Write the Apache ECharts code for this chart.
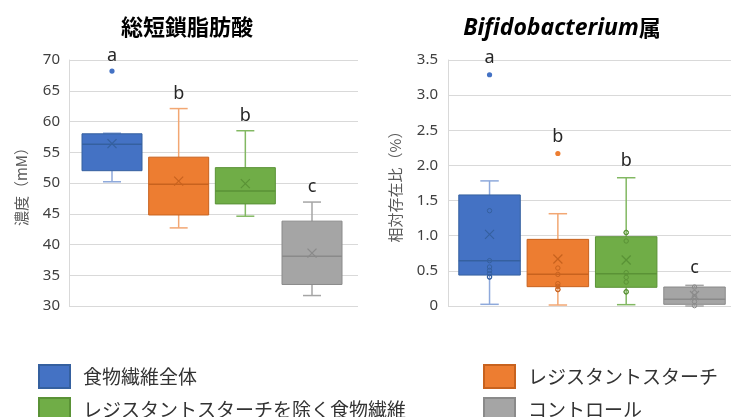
<!DOCTYPE html>
<html><head><meta charset="utf-8">
<script src="https://cdn.jsdelivr.net/npm/echarts@6/dist/echarts.min.js"></script>
<style>html,body{margin:0;padding:0;background:#fff}#c{width:731px;height:417px}</style>
</head><body><div id="c"></div>
<script>
// ---------- data ----------
const groups = ['食物繊維全体', 'レジスタントスターチ', 'レジスタントスターチを除く食物繊維', 'コントロール'];
const letters = ['a', 'b', 'b', 'c'];

// 総短鎖脂肪酸 (mM)
const scfaMin    = [50.2, 42.7, 44.6, 31.7];
const scfaQ1     = [52.0, 44.8, 46.6, 33.5];
const scfaMedian = [56.3, 49.8, 48.7, 38.1];
const scfaQ3     = [58.0, 54.2, 52.5, 43.8];
const scfaMax    = [58.1, 62.1, 58.5, 46.9];
const scfaMean   = [56.4, 50.3, 49.9, 38.6];
const scfaOutliers = [[68.2], [], [], []];
const scfaInner    = [[], [], [], []];
const scfaTicks = { min: 30, max: 70, interval: 5 };

// Bifidobacterium属 (%)
const bifMin    = [0.024, 0.014, 0.019, 0.0];
const bifQ1     = [0.44, 0.275, 0.266, 0.024];
const bifMedian = [0.645, 0.45, 0.46, 0.095];
const bifQ3     = [1.58, 0.948, 0.986, 0.27];
const bifMax    = [1.78, 1.313, 1.825, 0.294];
const bifMean   = [1.02, 0.668, 0.654, 0.15];
const bifOutliers = [[3.29], [2.17], [], []];
const bifInner = [
  [1.356, 0.645, 0.555, 0.507, 0.46, 0.417, 0.41],
  [0.54, 0.45, 0.318, 0.28, 0.237, 0.232],
  [1.048, 1.043, 0.925, 0.474, 0.408, 0.341, 0.199, 0.204],
  [0.27, 0.19, 0.133, 0.062, 0.005]
];
const bifTicks = { min: 0, max: 3.5, interval: 0.5 };

// ---------- styles ----------
const fills  = ['#4472C4', '#ED7D31', '#70AD47', '#A5A5A5'];
const darks  = ['#35609F', '#C8621E', '#5A9236', '#8A8A8A'];
const lights = ['#8EA9DB', '#F2A773', '#82B862', '#A5A5A5'];
const FONT = '"Noto Sans", "Noto Sans CJK JP", sans-serif';
const CJK = '"Noto Sans CJK JP", "Noto Sans", sans-serif';
const letterOffset = [15, 17];

const charts = [
  { min: scfaMin, q1: scfaQ1, med: scfaMedian, q3: scfaQ3, max: scfaMax, mean: scfaMean, out: scfaOutliers, inner: scfaInner },
  { min: bifMin, q1: bifQ1, med: bifMedian, q3: bifQ3, max: bifMax, mean: bifMean, out: bifOutliers, inner: bifInner }
];

function makeRender(c, g) {
  return function (params, api) {
    const x = api.value(0);
    const mn = api.value(1), q1 = api.value(2), md = api.value(3), q3 = api.value(4), mx = api.value(5), mean = api.value(6);
    const P = v => api.coord([x, v]);
    const unit = api.size([1, 0])[0];
    const bw = unit * 0.9;
    const capW = unit * 0.27;
    const cx = P(md)[0];
    const yMin = P(mn)[1], yQ1 = P(q1)[1], yMd = P(md)[1], yQ3 = P(q3)[1], yMax = P(mx)[1], yMean = P(mean)[1];
    const light = lights[g], dark = darks[g], fill = fills[g];
    const ch = [];
    ch.push({ type: 'line', shape: { x1: cx, y1: yMax, x2: cx, y2: yQ3 }, style: { stroke: light, lineWidth: 1.5 } });
    ch.push({ type: 'line', shape: { x1: cx, y1: yQ1, x2: cx, y2: yMin }, style: { stroke: light, lineWidth: 1.5 } });
    ch.push({ type: 'line', shape: { x1: cx - capW / 2, y1: yMax, x2: cx + capW / 2, y2: yMax }, style: { stroke: light, lineWidth: 1.5 } });
    ch.push({ type: 'line', shape: { x1: cx - capW / 2, y1: yMin, x2: cx + capW / 2, y2: yMin }, style: { stroke: light, lineWidth: 1.5 } });
    ch.push({ type: 'rect', shape: { x: cx - bw / 2, y: yQ3, width: bw, height: yQ1 - yQ3 }, style: { fill: fill, stroke: dark, lineWidth: 1 } });
    ch.push({ type: 'line', shape: { x1: cx - bw / 2, y1: yMd, x2: cx + bw / 2, y2: yMd }, style: { stroke: dark, lineWidth: 1.5 } });
    const h = 4.5;
    ch.push({ type: 'line', shape: { x1: cx - h, y1: yMean - h, x2: cx + h, y2: yMean + h }, style: { stroke: dark, lineWidth: 1.2 } });
    ch.push({ type: 'line', shape: { x1: cx - h, y1: yMean + h, x2: cx + h, y2: yMean - h }, style: { stroke: dark, lineWidth: 1.2 } });
    const d = charts[c];
    d.inner[g].forEach(v => {
      ch.push({ type: 'circle', shape: { cx: cx, cy: P(v)[1], r: 2.2 }, style: { fill: 'none', stroke: dark, lineWidth: 1 } });
    });
    let top = yMax;
    d.out[g].forEach(v => {
      const yy = P(v)[1];
      top = Math.min(top, yy);
      ch.push({ type: 'circle', shape: { cx: cx, cy: yy, r: 2.6 }, style: { fill: fill } });
    });
    ch.push({ type: 'text', x: cx, y: top - letterOffset[c], style: { text: letters[g], fill: '#262626', fontSize: 18, fontFamily: FONT, align: 'center', verticalAlign: 'middle', textAlign: 'center', textVerticalAlign: 'middle' } });
    return { type: 'group', children: ch };
  };
}

const series = [];
charts.forEach((d, c) => {
  groups.forEach((name, g) => {
    series.push({
      type: 'custom', name: name, xAxisIndex: c, yAxisIndex: c, clip: false,
      itemStyle: { color: fills[g], borderColor: darks[g], borderWidth: 1 },
      encode: { x: 0, y: [1, 2, 3, 4, 5] },
      data: [[g + 1, d.min[g], d.q1[g], d.med[g], d.q3[g], d.max[g], d.mean[g]]],
      renderItem: makeRender(c, g)
    });
  });
});

const yCommon = {
  axisLine: { show: true, lineStyle: { color: '#D9D9D9' } },
  axisTick: { show: false },
  splitLine: { show: true, lineStyle: { color: '#D9D9D9', width: 1 } },
  nameLocation: 'middle',
  nameTextStyle: { color: '#595959', fontSize: 15, fontFamily: CJK }
};

function legendItem(name, left, top) {
  return {
    orient: 'horizontal', padding: 0, itemWidth: 31, itemHeight: 23,
    icon: 'rect', selectedMode: false, left: left, top: top, data: [name],
    textStyle: { fontSize: 19, color: '#333', fontFamily: CJK, padding: [0, 0, 0, 8] }
  };
}

const option = {
  animation: false,
  backgroundColor: '#fff',
  graphic: [
    { type: 'text', x: 187, y: 27, style: { text: '総短鎖脂肪酸', fill: '#000', fontSize: 22, fontWeight: 'bold', fontFamily: CJK, align: 'center', verticalAlign: 'middle' } },
    { type: 'text', x: 562, y: 28, style: {
      text: '{i|Bifidobacterium}{n|属}', fill: '#000', align: 'center', verticalAlign: 'middle',
      rich: {
        i: { fontSize: 23, fontWeight: 'bold', fontStyle: 'italic', fontFamily: FONT, fill: '#000' },
        n: { fontSize: 22, fontWeight: 'bold', fontFamily: CJK, fill: '#000' }
      } } }
  ],
  grid: [
    { left: 69, right: 373, top: 60, bottom: 111 },
    { left: 448, right: 0, top: 60, bottom: 111 }
  ],
  xAxis: [
    { gridIndex: 0, type: 'value', min: 0.355, max: 4.69, show: false },
    { gridIndex: 1, type: 'value', min: 0.392, max: 4.534, show: false }
  ],
  yAxis: [
    Object.assign({}, yCommon, {
      gridIndex: 0, type: 'value', min: scfaTicks.min, max: scfaTicks.max, interval: scfaTicks.interval,
      name: '濃度（mM）', nameGap: 40,
      axisLabel: { color: '#404040', fontSize: 15, fontFamily: FONT, margin: 9 }
    }),
    Object.assign({}, yCommon, {
      gridIndex: 1, type: 'value', min: bifTicks.min, max: bifTicks.max, interval: bifTicks.interval,
      name: '相対存在比（%）', nameGap: 45,
      axisLabel: { color: '#404040', fontSize: 15, fontFamily: FONT, margin: 10,
        formatter: v => (v === 0 ? '0' : v.toFixed(1)) }
    })
  ],
  legend: [
    legendItem(groups[0], 38, 364),
    legendItem(groups[2], 38, 397),
    legendItem(groups[1], 483, 364),
    legendItem(groups[3], 483, 397)
  ],
  series: series
};

const chart = echarts.init(document.getElementById('c'), null, { renderer: 'canvas' });
chart.setOption(option);
</script>
</body></html>
